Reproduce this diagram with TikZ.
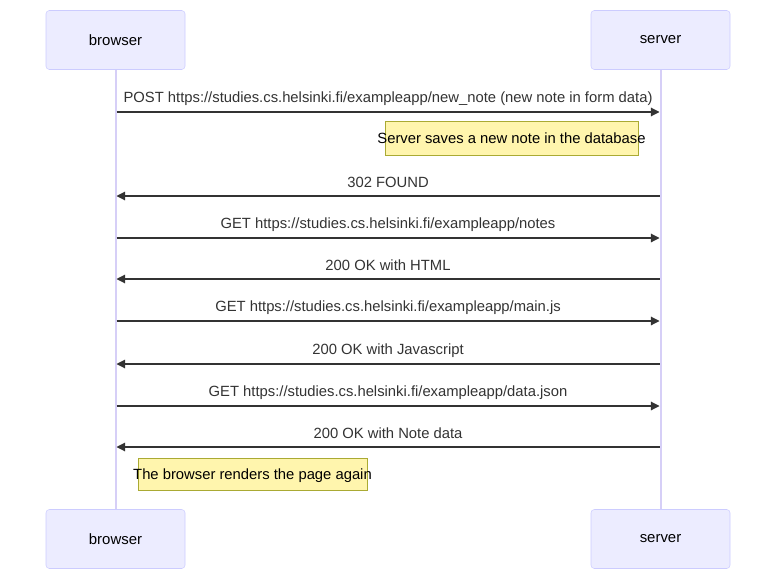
\documentclass[tikz,border=0pt]{standalone}
\usepackage{fontspec}
\setmainfont{Liberation Sans}
\usetikzlibrary{arrows.meta}

\definecolor{actorfill}{HTML}{ECECFF}
\definecolor{actorline}{HTML}{CCCCFF}
\definecolor{lifeline}{HTML}{D6CFF7}
\definecolor{notefill}{HTML}{FFF5AD}
\definecolor{noteline}{HTML}{AAAA33}
\definecolor{msgline}{HTML}{333333}

\begin{document}
\begin{tikzpicture}[x=0.75pt,y=-0.75pt,
  actor/.style={draw=actorline, fill=actorfill, rounded corners=2.5pt,
    minimum width=104.25pt, minimum height=44.25pt, inner sep=0pt,
    font=\fontsize{11.2}{13}\selectfont},
  note/.style={draw=noteline, fill=notefill, inner sep=0pt,
    text height=9.5pt, text depth=1.5pt,
    font=\fontsize{11.1}{13}\selectfont},
  life/.style={draw=lifeline, line width=1.5pt},
  msg/.style={draw=msgline, line width=0.8pt, -{Triangle[length=6.5pt,width=6.5pt]}},
  lbl/.style={midway, yshift=10.3pt, text=msgline, inner sep=0pt,
    font=\fontsize{11.1}{13}\selectfont}]
  \useasboundingbox (0,0) rectangle (784,585);

  % Actors at top and bottom
  \node[actor] (bt) at (115.5,40) {browser};
  \node[actor] (st) at (660.5,40) {server};
  \node[actor] (bb) at (115.5,539) {browser};
  \node[actor] (sb) at (660.5,539) {server};

  % Lifelines
  \draw[life] (bt.south) -- (bb.north);
  \draw[life] (st.south) -- (sb.north);

  % Message anchors on the lifelines
  \foreach \i/\y in {1/112,2/196,3/238,4/279,5/321,6/364,7/406,8/447} {
    \coordinate (b\i) at (116.5,\y);
    \coordinate (s\i) at (659.5,\y);
  }

  % Messages
  \draw[msg] (b1) -- node[lbl] {POST https://studies.cs.helsinki.fi/exampleapp/new\_note (new note in form data)} (s1);
  \draw[msg] (s2) -- node[lbl] {302 FOUND} (b2);
  \draw[msg] (b3) -- node[lbl] {GET https://studies.cs.helsinki.fi/exampleapp/notes} (s3);
  \draw[msg] (s4) -- node[lbl] {200 OK with HTML} (b4);
  \draw[msg] (b5) -- node[lbl] {GET https://studies.cs.helsinki.fi/exampleapp/main.js} (s5);
  \draw[msg] (s6) -- node[lbl] {200 OK with Javascript} (b6);
  \draw[msg] (b7) -- node[lbl] {GET https://studies.cs.helsinki.fi/exampleapp/data.json} (s7);
  \draw[msg] (s8) -- node[lbl] {200 OK with Note data} (b8);

  % Notes (text may run over the box edge)
  \node[note, minimum width=189.75pt, minimum height=25.5pt] (n1) at (511.5,138)
    {\makebox[0pt]{Server saves a new note in the database}};
  \node[note, minimum width=171.75pt, minimum height=24pt] (n2) at (252.5,474)
    {\makebox[0pt]{The browser renders the page again}};
\end{tikzpicture}
\end{document}
